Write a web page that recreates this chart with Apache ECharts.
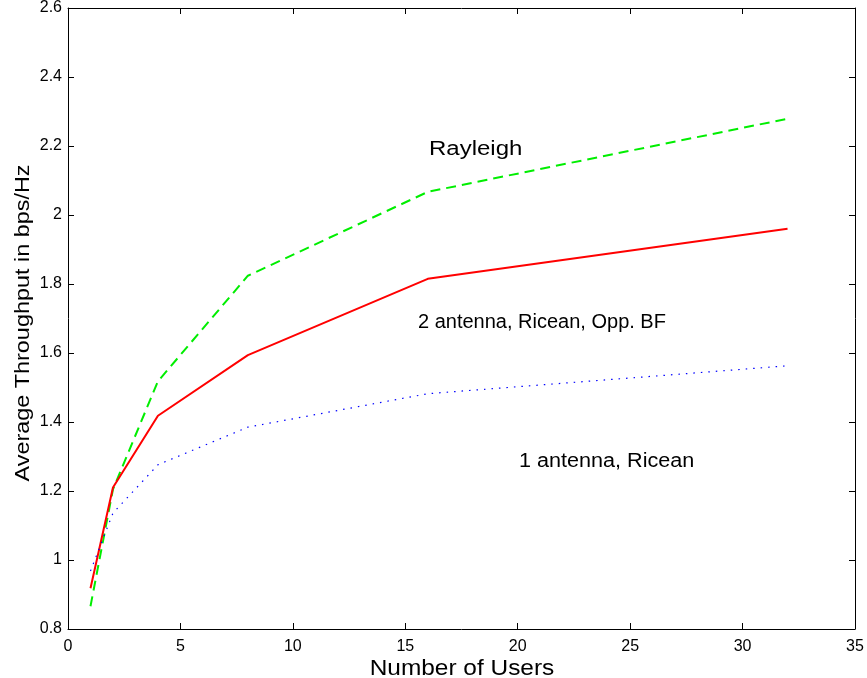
<!DOCTYPE html>
<html>
<head>
<meta charset="utf-8">
<script src="https://cdn.jsdelivr.net/npm/echarts@6/dist/echarts.min.js"></script>
<style>
html, body { margin: 0; padding: 0; background: #fff; }
#chart { width: 867px; height: 678px; }
</style>
</head>
<body>
<div id="chart"></div>
<script>
// users on the x axis
var users = [1, 2, 4, 8, 16, 32];
// throughput, bps/Hz
var rayleigh = [0.866, 1.205, 1.518, 1.824, 2.067, 2.279];
var twoAntenna = [0.918, 1.21, 1.418, 1.594, 1.815, 1.96];
var oneAntenna = [0.968, 1.136, 1.276, 1.385, 1.482, 1.563];
var labels = ['Rayleigh', '2 antenna, Ricean, Opp. BF', '1 antenna, Ricean'];
var xTitle = 'Number of Users';
var yTitle = 'Average Throughput in bps/Hz';

function pairs(ys) {
	var out = [];
	for (var i = 0; i < users.length; i++) out.push([users[i], ys[i]]);
	return out;
}

var font = 'Liberation Sans, Arial, Helvetica, sans-serif';
var myChart = echarts.init(document.getElementById('chart'));

var axisCommon = {
	axisLine: { show: true, onZero: false, lineStyle: { color: '#000', width: 1 } },
	axisTick: { show: true, inside: true, length: 6, lineStyle: { color: '#000' } },
	splitLine: { show: false }
};

// free text, the source font is a bit wider than Liberation Sans
function note(text, x, y, size, sx, extra) {
	var el = {
		type: 'text', x: x, y: y, scaleX: sx,
		style: { text: text, font: size + 'px ' + font, fill: '#000', verticalAlign: 'top' }
	};
	return echarts.util.merge(el, extra || {}, true);
}

var option = {
	backgroundColor: '#fff',
	animation: false,
	grid: { left: 68, right: 12, top: 8, bottom: 49, containLabel: false, outerBoundsMode: 'none' },
	xAxis: [
		echarts.util.merge({
			type: 'value', min: 0, max: 35, interval: 5, position: 'bottom',
			axisLabel: { fontFamily: font, fontSize: 16, color: '#000', margin: 10 }
		}, axisCommon, true),
		echarts.util.merge({
			type: 'value', min: 0, max: 35, interval: 5, position: 'top',
			axisLabel: { show: false }
		}, axisCommon, true)
	],
	yAxis: [
		echarts.util.merge({
			type: 'value', min: 0.8, max: 2.6, interval: 0.2, position: 'left',
			axisLabel: { fontFamily: font, fontSize: 16, color: '#000', margin: 6 }
		}, axisCommon, true),
		echarts.util.merge({
			type: 'value', min: 0.8, max: 2.6, interval: 0.2, position: 'right',
			axisLabel: { show: false }
		}, axisCommon, true)
	],
	series: [
		{
			name: labels[0], type: 'line', data: pairs(rayleigh), symbol: 'none',
			lineStyle: { color: '#00ee00', width: 2, type: [10, 6] }
		},
		{
			name: labels[1], type: 'line', data: pairs(twoAntenna), symbol: 'none',
			lineStyle: { color: '#ff0000', width: 2, type: 'solid' }
		},
		{
			name: labels[2], type: 'line', data: pairs(oneAntenna), symbol: 'none',
			lineStyle: { color: '#0000ff', width: 1.2, type: [1.5, 6] }
		}
	],
	graphic: [
		note(labels[0], 429, 139, 20, 1.2),
		note(labels[1], 418, 312, 20, 1.0),
		note(labels[2], 519, 451, 20, 1.08),
		note(xTitle, 462, 669, 22, 1.11, { style: { align: 'center', verticalAlign: 'middle' } }),
		note(yTitle, 23, 323, 20, 1.17, { rotation: Math.PI / 2, style: { align: 'center', verticalAlign: 'middle' } })
	]
};
myChart.setOption(option);
</script>
</body>
</html>
